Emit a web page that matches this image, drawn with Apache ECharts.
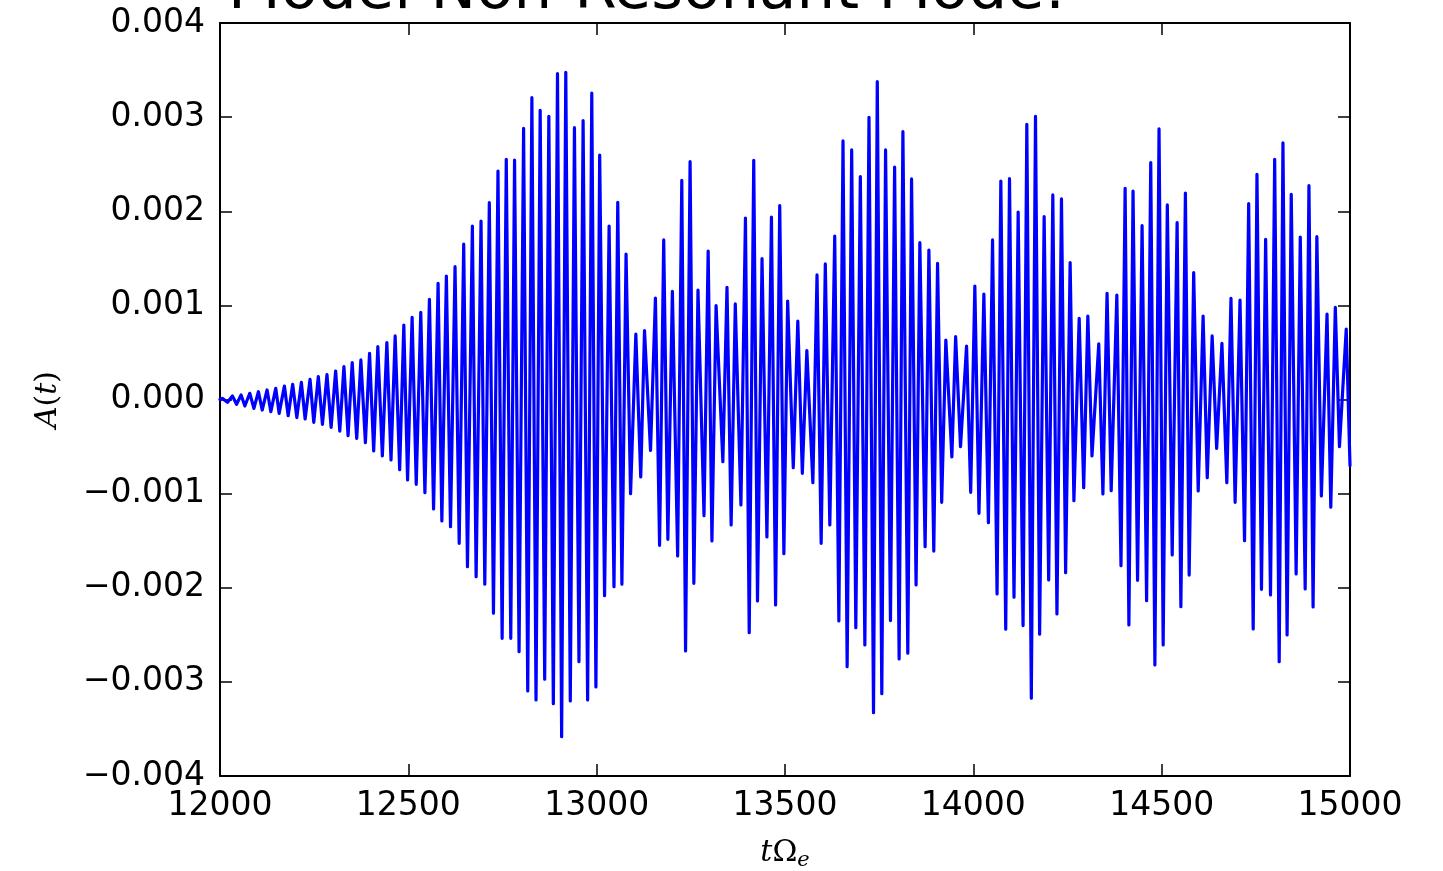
<!DOCTYPE html>
<html><head><meta charset="utf-8">
<script src="https://cdn.jsdelivr.net/npm/echarts@6/dist/echarts.min.js"></script>
<style>html,body{margin:0;padding:0;background:#fff}#c{width:1443px;height:871px}</style>
</head><body><div id="c"></div>
<script>
// ---------- data ----------
const titleText = 'Model Non-Resonant Mode:';
const xName = '{i|t}{u|Ω}{s|e}';
const yName = '{i|A}{u|(}{i|t}{u|)}';
const xMin = 12000, xMax = 15000, xStep = 500;
const yMin = -0.004, yMax = 0.004, yStep = 0.001;
const AMP_UNIT = 1e-3; // amplitudes below are listed in units of 1e-3

// local maxima: time, amplitude (x1e-3)
const peakT = [12006,12033,12056,12079,12102,12125,12148,12171,12193,12216,12239,12261,12284,12307,12329,12351,12374,12397,12419,12443,12465,12488,
12510,12533,12556,12579,12601,12624,12647,12670,12693,12715,12738,12760,12782,12806,12828,12850,12873,12896,12918,12941,12964,12987,
13008,13033,13056,13078,13104,13127,13156,13178,13201,13226,13248,13269,13296,13317,13346,13368,13395,13417,13439,13464,13486,
13507,13534,13558,13585,13607,13632,13654,13677,13700,13723,13745,13767,13791,13813,13836,13858,13882,13905,13927,13953,13982,
14004,14028,14051,14073,14096,14119,14142,14165,14188,14211,14234,14257,14281,14304,14333,14355,14381,14403,14424,14448,14471,14493,
14515,14541,14563,14585,14610,14634,14660,14684,14708,14731,14753,14776,14800,14822,14844,14868,14891,14912,14939,14961,14990];
const peakA = [0.012,0.037,0.048,0.066,0.083,0.101,0.119,0.143,0.161,0.182,0.214,0.243,0.264,0.303,0.349,0.391,0.420,0.490,0.561,0.604,0.675,0.791,
0.873,0.926,1.064,1.234,1.312,1.411,1.652,1.843,1.896,2.091,2.427,2.551,2.544,2.881,3.207,3.072,3.009,3.462,3.476,2.888,2.962,3.256,
2.597,1.843,2.095,1.546,0.696,0.731,1.078,1.695,1.149,2.328,2.527,1.163,1.577,0.997,1.192,1.015,1.928,2.541,1.496,1.939,2.060,
1.045,0.834,0.519,1.323,1.440,1.737,2.747,2.651,2.368,2.998,3.377,2.651,2.470,2.846,2.343,1.666,1.588,1.446,0.632,0.667,0.568,
1.205,1.121,1.695,2.321,2.346,1.992,2.923,3.009,1.943,2.173,2.131,1.454,0.862,0.887,0.590,1.128,1.110,2.243,2.215,1.847,2.517,2.875,
2.067,1.879,2.194,1.348,0.887,0.675,0.597,1.075,1.057,2.081,2.392,1.702,2.551,2.728,2.180,1.726,2.272,1.730,0.908,0.979,0.749];

// local minima: time, amplitude (x1e-3)
const troughT = [12000,12020,12044,12066,12090,12112,12135,12157,12181,12204,12226,12249,12272,12295,12318,12340,12363,12386,12408,12431,12454,12477,
12498,12521,12544,12567,12589,12612,12635,12657,12680,12703,12726,12749,12772,12794,12817,12839,12862,12885,12907,12930,12953,12976,
12998,13021,13046,13067,13090,13117,13143,13167,13189,13215,13236,13258,13285,13306,13335,13357,13383,13405,13427,13452,13475,
13497,13522,13546,13574,13596,13619,13643,13665,13688,13712,13735,13757,13780,13803,13826,13848,13872,13895,13916,13943,13966,13993,
14015,14040,14063,14086,14108,14132,14154,14176,14200,14222,14245,14267,14293,14315,14344,14366,14392,14413,14436,14460,14482,
14504,14528,14551,14573,14597,14621,14646,14673,14695,14720,14743,14765,14789,14812,14833,14857,14881,14902,14924,14949,14972,15000];
const troughA = [0.000,-0.030,-0.051,-0.069,-0.094,-0.112,-0.129,-0.147,-0.172,-0.193,-0.207,-0.243,-0.264,-0.296,-0.335,-0.384,-0.413,-0.459,-0.547,-0.600,-0.643,-0.745,
-0.855,-0.901,-0.990,-1.163,-1.291,-1.351,-1.528,-1.776,-1.882,-1.963,-2.271,-2.537,-2.537,-2.679,-3.097,-3.192,-2.972,-3.231,-3.582,-3.203,-2.785,-3.192,
-3.054,-2.084,-1.988,-1.963,-1.000,-0.823,-0.540,-1.549,-1.485,-1.662,-2.672,-1.953,-1.234,-1.503,-0.660,-1.333,-1.121,-2.477,-2.140,-1.461,-2.183,
-1.638,-0.724,-0.784,-0.883,-1.528,-1.333,-2.353,-2.838,-2.424,-2.608,-3.327,-3.125,-2.349,-2.757,-2.696,-1.971,-1.563,-1.610,-1.092,-0.611,-0.501,-0.986,
-1.209,-1.308,-2.066,-2.441,-2.101,-2.402,-3.174,-2.494,-1.917,-2.279,-1.840,-1.075,-0.936,-0.600,-1.004,-0.968,-1.765,-2.395,-1.921,-2.137,-2.820,
-2.608,-1.652,-2.201,-1.865,-0.972,-0.830,-0.519,-0.883,-1.092,-1.500,-2.438,-2.017,-2.077,-2.785,-2.502,-1.854,-2.013,-2.204,-1.025,-1.145,-0.501,-0.700];

// ---------- build ----------
const pts = [];
peakT.forEach((t, i) => pts.push([t, peakA[i] * AMP_UNIT]));
troughT.forEach((t, i) => pts.push([t, troughA[i] * AMP_UNIT]));
pts.sort((a, b) => a[0] - b[0]);

const fmtY = v => {
  if (Math.abs(v) < 1e-9) return '0.000';
  return (v < 0 ? '\u2212' : '') + Math.abs(v).toFixed(3);
};
const fmtX = v => String(Math.round(v));
const axisLineStyle = { color: '#000', width: 2 };
const tickCfg = { show: true, inside: true, length: 12, lineStyle: { color: '#000', width: 1.5 } };
const lblFont = { fontFamily: 'DejaVu Sans', fontSize: 33, color: '#000' };
const richMath = {
  i: { fontFamily: 'DejaVu Serif', fontStyle: 'italic', fontSize: 30, lineHeight: 30, verticalAlign: 'top', color: '#000' },
  u: { fontFamily: 'DejaVu Serif', fontSize: 30, lineHeight: 30, verticalAlign: 'top', color: '#000' },
  s: { fontFamily: 'DejaVu Serif', fontStyle: 'italic', fontSize: 21, lineHeight: 22, padding: [12, 0, 0, 0], verticalAlign: 'top', color: '#000' }
};

const chart = echarts.init(document.getElementById('c'), null, { renderer: 'canvas' });
chart.setOption({
  animation: false,
  backgroundColor: '#fff',
  title: {
    text: titleText, left: 228, top: -38, padding: 0,
    textStyle: { fontFamily: 'DejaVu Sans', fontSize: 61, fontWeight: 'normal', color: '#000' }
  },
  grid: { left: 220, right: 93, top: 23, bottom: 95, containLabel: false, outerBoundsMode: 'none' },
  xAxis: [
    {
      type: 'value', position: 'bottom', min: xMin, max: xMax, interval: xStep,
      axisLine: { show: true, onZero: false, lineStyle: axisLineStyle },
      axisTick: tickCfg,
      axisLabel: Object.assign({ margin: 14, formatter: fmtX }, lblFont),
      splitLine: { show: false },
      name: xName, nameLocation: 'middle', nameGap: 62,
      nameTextStyle: { rich: richMath }
    },
    {
      type: 'value', position: 'top', min: xMin, max: xMax, interval: xStep,
      axisLine: { show: true, onZero: false, lineStyle: axisLineStyle },
      axisTick: tickCfg, axisLabel: { show: false }, splitLine: { show: false }
    }
  ],
  yAxis: [
    {
      type: 'value', position: 'left', min: yMin, max: yMax, interval: yStep,
      axisLine: { show: true, onZero: false, lineStyle: axisLineStyle },
      axisTick: tickCfg,
      axisLabel: Object.assign({ margin: 15, formatter: fmtY }, lblFont),
      splitLine: { show: false },
      name: yName, nameLocation: 'middle', nameGap: 157, nameRotate: 90,
      nameTextStyle: { rich: richMath }
    },
    {
      type: 'value', position: 'right', min: yMin, max: yMax, interval: yStep,
      axisLine: { show: true, onZero: false, lineStyle: axisLineStyle },
      axisTick: tickCfg, axisLabel: { show: false }, splitLine: { show: false }
    }
  ],
  series: [{
    type: 'line', xAxisIndex: 0, yAxisIndex: 0,
    data: pts, showSymbol: false, symbol: 'none',
    smooth: false,
    lineStyle: { color: '#0000ff', width: 3.2, join: 'round', cap: 'round' },
    clip: true
  }]
});
</script>
</body></html>
